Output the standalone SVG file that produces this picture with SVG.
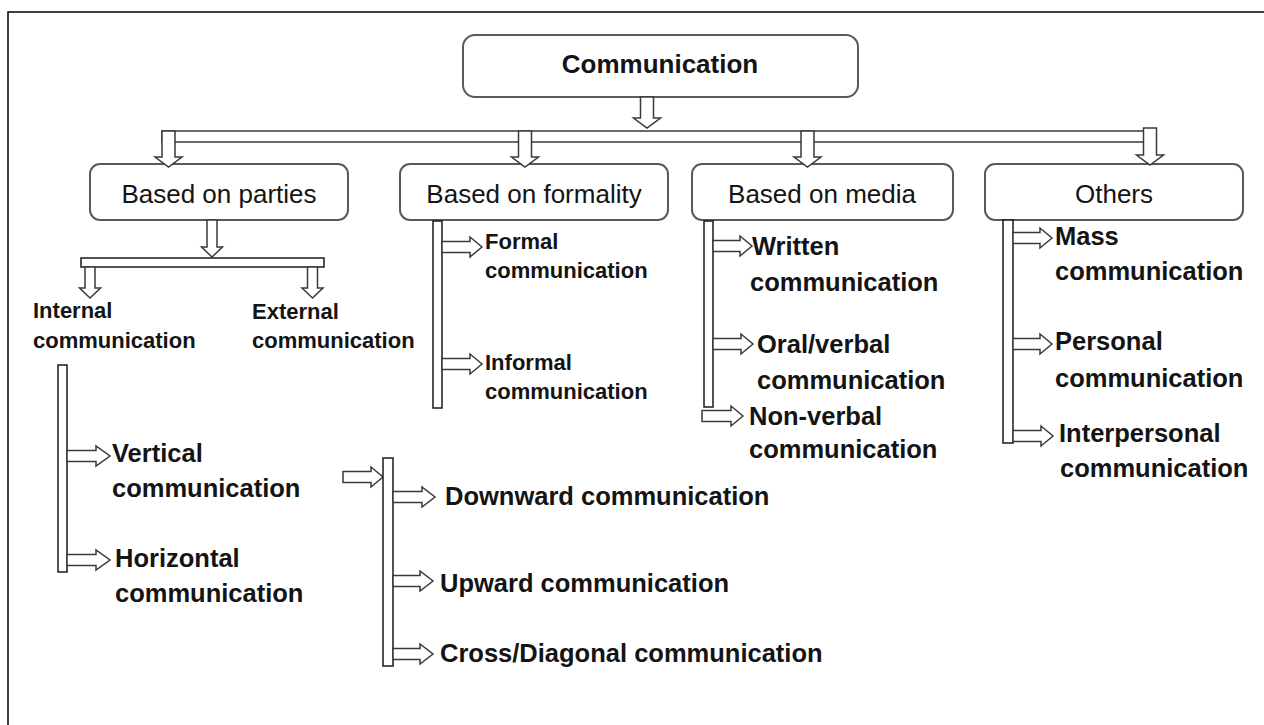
<svg xmlns="http://www.w3.org/2000/svg" width="1264" height="725" viewBox="0 0 1264 725">
<style>
.box{fill:#fff;stroke:#5a5a5a;stroke-width:2}
.bar{fill:#fff;stroke:#1a1a1a;stroke-width:1.5}
.arr{fill:#fff;stroke:#3a3a3a;stroke-width:1.5;stroke-linejoin:miter}
text{font-family:"Liberation Sans",Arial,sans-serif;fill:#141414}
.h1{font-size:26px;font-weight:bold;text-anchor:middle}
.h2{font-size:26px;text-anchor:middle}
.b{font-size:25.5px;font-weight:bold}
.s{font-size:22px;font-weight:bold}
</style>
<rect width="1264" height="725" fill="#fff"/>
<path d="M8,725 L8,12 L1264,12" fill="none" stroke="#000" stroke-width="1.5"/>

<g id="node-communication">
<rect class="box" x="463" y="35" width="395" height="62" rx="12"/>
<text class="h1" x="660" y="73">Communication</text>
</g>
<g id="node-parties">
<rect class="box" x="90" y="164" width="258" height="56" rx="10"/>
<text class="h2" x="219" y="203">Based on parties</text>
</g>
<g id="node-formality">
<rect class="box" x="400" y="164" width="268" height="56" rx="10"/>
<text class="h2" x="534" y="203">Based on formality</text>
</g>
<g id="node-media">
<rect class="box" x="692" y="164" width="261" height="56" rx="10"/>
<text class="h2" x="822" y="203">Based on media</text>
</g>
<g id="node-others">
<rect class="box" x="985" y="164" width="258" height="56" rx="10"/>
<text class="h2" x="1114" y="203">Others</text>
</g>

<g id="connectors">
<path class="arr" d="M640.5,97 L653.5,97 L653.5,118 L660.5,118 L647,128 L633.5,118 L640.5,118 Z"/>
<rect class="arr" x="162" y="131" width="985" height="11"/>
<path class="arr" d="M162,131 L175,131 L175,157 L182,157 L168.5,167 L155,157 L162,157 Z"/>
<path class="arr" d="M518.5,131 L531.5,131 L531.5,157 L538.5,157 L525,167 L511.5,157 L518.5,157 Z"/>
<path class="arr" d="M801,131 L814,131 L814,157 L821,157 L807.5,167 L794,157 L801,157 Z"/>
<path class="arr" d="M1143.5,128 L1156.5,128 L1156.5,155 L1163.5,155 L1150,165 L1136.5,155 L1143.5,155 Z"/>

<path class="arr" d="M207,220 L217,220 L217,247 L222.5,247 L212,257 L201.5,247 L207,247 Z"/>
<rect class="bar" x="81" y="258" width="243" height="9"/>
<path class="arr" d="M85,267 L95,267 L95,288 L100.5,288 L90,298 L79.5,288 L85,288 Z"/>
<path class="arr" d="M307.5,267 L317.5,267 L317.5,288 L323,288 L312.5,298 L302,288 L307.5,288 Z"/>

<rect class="bar" x="58" y="365" width="9" height="207"/>
<path class="arr" d="M67,450.5 L96,450.5 L96,446 L110,456 L96,466 L96,461.5 L67,461.5 Z"/>
<path class="arr" d="M67,554.5 L96,554.5 L96,550 L110,560 L96,570 L96,565.5 L67,565.5 Z"/>

<rect class="bar" x="433" y="221" width="9" height="187"/>
<path class="arr" d="M442,241.5 L470,241.5 L470,237 L482,247 L470,257 L470,252.5 L442,252.5 Z"/>
<path class="arr" d="M442,358.5 L470,358.5 L470,354 L482,364 L470,374 L470,369.5 L442,369.5 Z"/>

<rect class="bar" x="704" y="221" width="9" height="186"/>
<path class="arr" d="M713,240.5 L740,240.5 L740,236 L752,246 L740,256 L740,251.5 L713,251.5 Z"/>
<path class="arr" d="M713,338.5 L741,338.5 L741,334 L753,344 L741,354 L741,349.5 L713,349.5 Z"/>
<path class="arr" d="M702,410.5 L731,410.5 L731,406 L743,416 L731,426 L731,421.5 L702,421.5 Z"/>

<rect class="bar" x="1003" y="220" width="10" height="223"/>
<path class="arr" d="M1013,232.5 L1040,232.5 L1040,228 L1052,238 L1040,248 L1040,243.5 L1013,243.5 Z"/>
<path class="arr" d="M1013,338.5 L1040,338.5 L1040,334 L1052,344 L1040,354 L1040,349.5 L1013,349.5 Z"/>
<path class="arr" d="M1013,430.5 L1041,430.5 L1041,426 L1053,436 L1041,446 L1041,441.5 L1013,441.5 Z"/>

<path class="arr" d="M343,471.5 L371,471.5 L371,467 L383,477 L371,487 L371,482.5 L343,482.5 Z"/>
<rect class="bar" x="383" y="458" width="10" height="208"/>
<path class="arr" d="M393,491.5 L422,491.5 L422,487 L435,497 L422,507 L422,502.5 L393,502.5 Z"/>
<path class="arr" d="M393,575.5 L420,575.5 L420,571 L433,581 L420,591 L420,586.5 L393,586.5 Z"/>
<path class="arr" d="M393,648.5 L420,648.5 L420,644 L433,654 L420,664 L420,659.5 L393,659.5 Z"/>
</g>

<g id="node-internal"><text class="s" x="33" y="318">Internal</text><text class="s" x="33" y="348">communication</text></g>
<g id="node-external"><text class="s" x="252" y="319">External</text><text class="s" x="252" y="348">communication</text></g>
<g id="node-vertical"><text class="b" x="112" y="462">Vertical</text><text class="b" x="112" y="497">communication</text></g>
<g id="node-horizontal"><text class="b" x="115" y="567">Horizontal</text><text class="b" x="115" y="602">communication</text></g>
<g id="node-formal"><text class="s" x="485" y="249">Formal</text><text class="s" x="485" y="278">communication</text></g>
<g id="node-informal"><text class="s" x="485" y="370">Informal</text><text class="s" x="485" y="399">communication</text></g>
<g id="node-written"><text class="b" x="752" y="255">Written</text><text class="b" x="750" y="291">communication</text></g>
<g id="node-oral"><text class="b" x="757" y="353">Oral/verbal</text><text class="b" x="757" y="389">communication</text></g>
<g id="node-nonverbal"><text class="b" x="749" y="425">Non-verbal</text><text class="b" x="749" y="458">communication</text></g>
<g id="node-mass"><text class="b" x="1055" y="245">Mass</text><text class="b" x="1055" y="280">communication</text></g>
<g id="node-personal"><text class="b" x="1055" y="350">Personal</text><text class="b" x="1055" y="387">communication</text></g>
<g id="node-interpersonal"><text class="b" x="1059" y="442">Interpersonal</text><text class="b" x="1060" y="477">communication</text></g>
<g id="node-downward"><text class="b" x="445" y="505">Downward communication</text></g>
<g id="node-upward"><text class="b" x="440" y="592">Upward communication</text></g>
<g id="node-cross"><text class="b" x="440" y="662">Cross/Diagonal communication</text></g>
</svg>
